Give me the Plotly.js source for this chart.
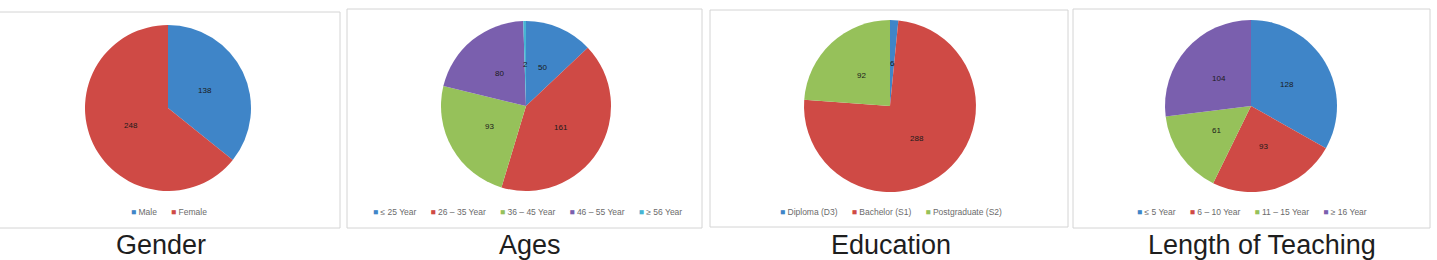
<!DOCTYPE html>
<html>
<head>
<meta charset="utf-8">
<script src="https://cdn.plot.ly/plotly-3.0.1.min.js"></script>
<style>
html,body{margin:0;padding:0;background:#fff;}
#chart{width:1437px;height:260px;}
</style>
</head>
<body>
<div id="chart"></div>
<script>
// ---- data ----
const panelTitles = ['Gender', 'Ages', 'Education', 'Length of Teaching'];

const genderLabels = ['Male', 'Female'];
const genderValues = [138, 248];

const ageLabels = ['\u2264 25 Year', '26 \u2013 35 Year', '36 \u2013 45 Year', '46 \u2013 55 Year', '\u2265 56 Year'];
const ageValues = [50, 161, 93, 80, 2];

const eduLabels = ['Diploma (D3)', 'Bachelor (S1)', 'Postgraduate (S2)'];
const eduValues = [6, 288, 92];

const teachLabels = ['\u2264 5 Year', '6 \u2013 10 Year', '11 \u2013 15 Year', '\u2265 16 Year'];
const teachValues = [128, 93, 61, 104];

// ---- styling / layout ----
const W = 1437, H = 260;
const colors = ['#3F85C8', '#CF4A45', '#96C15A', '#7A5FAE', '#46B4D3'];
const FONT = 'Liberation Sans, Arial, sans-serif';
const fx = v => v / W;
const fy = v => 1 - v / H;
const LABEL_R = 0.49; // data labels sit at ~half radius along each slice bisector (Excel style)

const panels = [
  {labels: genderLabels, values: genderValues, box: [-2, 12, 340, 228], pie: [168, 108, 83], legendX: 169, titleX: 161},
  {labels: ageLabels, values: ageValues, box: [347, 9, 702, 228], pie: [526, 106, 85], legendX: 527, titleX: 530},
  {labels: eduLabels, values: eduValues, box: [710, 10, 1068, 227], pie: [890, 106, 86], legendX: 891, titleX: 891},
  {labels: teachLabels, values: teachValues, box: [1073, 9, 1430, 228], pie: [1251, 106, 86], legendX: 1252, titleX: 1262}
];

const traces = [];
const shapes = [];
const annotations = [];
const layout = {
  width: W, height: H,
  margin: {l: 0, r: 0, t: 0, b: 0, pad: 0},
  paper_bgcolor: '#ffffff',
  plot_bgcolor: 'rgba(0,0,0,0)',
  showlegend: false,
  shapes: shapes,
  annotations: annotations
};
const NB = '\u00A0';

panels.forEach((p, i) => {
  const [cx, cy, r] = p.pie;
  const dx = [fx(cx - r), fx(cx + r)];
  const dy = [fy(cy + r), fy(cy - r)];
  traces.push({
    type: 'pie',
    labels: p.labels,
    values: p.values,
    sort: false,
    direction: 'clockwise',
    rotation: 0,
    textinfo: 'none',
    marker: {colors: colors.slice(0, p.labels.length), line: {width: 0}},
    domain: {x: dx, y: dy},
    showlegend: false,
    hoverinfo: 'label+value'
  });

  // invisible axes spanning the pie domain, radius = 1 unit
  const sfx = i === 0 ? '' : String(i + 1);
  layout['xaxis' + sfx] = {domain: dx, range: [-1, 1], visible: false, fixedrange: true, anchor: 'y' + sfx};
  layout['yaxis' + sfx] = {domain: dy, range: [-1, 1], visible: false, fixedrange: true, anchor: 'x' + sfx};
  traces.push({
    type: 'scatter', mode: 'none', x: [-1, 1], y: [-1, 1],
    xaxis: 'x' + sfx, yaxis: 'y' + sfx, hoverinfo: 'skip', showlegend: false
  });

  // value labels placed along slice bisectors, computed from the data
  const total = p.values.reduce((a, b) => a + b, 0);
  let cum = 0;
  p.values.forEach(v => {
    const ang = 2 * Math.PI * (cum + v / 2) / total;
    annotations.push({
      xref: 'x' + sfx, yref: 'y' + sfx,
      x: LABEL_R * Math.sin(ang), y: LABEL_R * Math.cos(ang),
      xanchor: 'center', yanchor: 'middle', showarrow: false,
      text: String(v), font: {family: FONT, size: 8, color: '#1a1a1a'}
    });
    cum += v;
  });

  const [x0, y0, x1, y1] = p.box;
  shapes.push({
    type: 'rect', xref: 'paper', yref: 'paper',
    x0: fx(x0), x1: fx(x1), y0: fy(y1), y1: fy(y0),
    line: {color: '#d4d4d4', width: 1}, fillcolor: 'rgba(0,0,0,0)'
  });
  const legendText = p.labels.map((lab, k) =>
    '<span style="color:' + colors[k] + '">\u25A0</span>' + NB + lab
  ).join(NB.repeat(6));
  annotations.push({
    xref: 'paper', yref: 'paper', x: fx(p.legendX), y: fy(212),
    xanchor: 'center', yanchor: 'middle', showarrow: false,
    text: legendText, font: {family: FONT, size: 8.5, color: '#6b6b6b'}
  });
  annotations.push({
    xref: 'paper', yref: 'paper', x: fx(p.titleX), y: fy(245),
    xanchor: 'center', yanchor: 'middle', showarrow: false,
    text: panelTitles[i], font: {family: FONT, size: 27, color: '#1e1e1e'}
  });
});

Plotly.newPlot('chart', traces, layout, {displayModeBar: false, staticPlot: true});
</script>
</body>
</html>
